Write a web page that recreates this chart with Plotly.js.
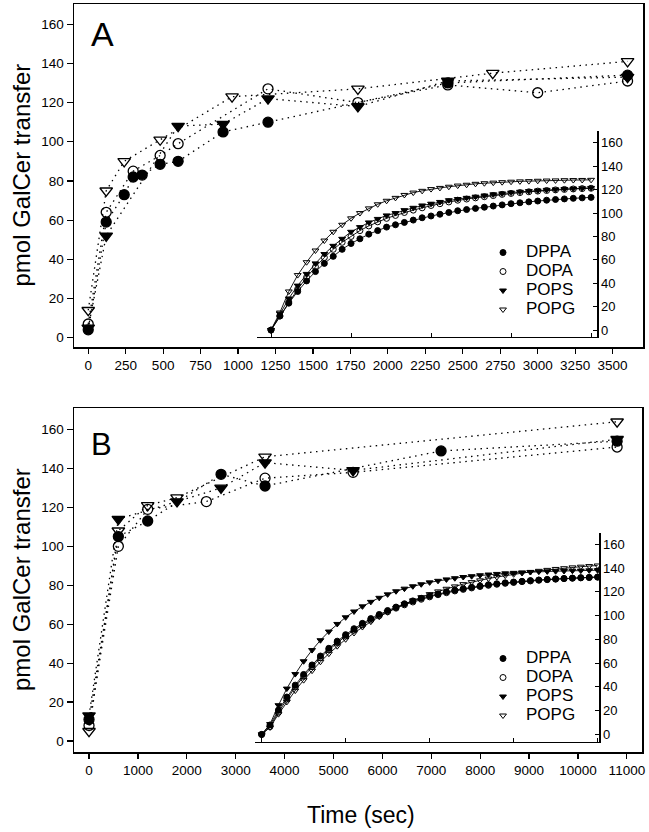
<!DOCTYPE html>
<html><head><meta charset="utf-8">
<script src="https://cdn.plot.ly/plotly-3.0.1.min.js"></script>
<style>html,body{margin:0;padding:0;background:#fff}#chart{width:649px;height:832px}</style>
</head><body><div id="chart"></div>
<script>
// ---------- data ----------
const seriesNames = ['DPPA', 'DOPA', 'POPS', 'POPG'];

// Panel A, main plot (time in sec, pmol GalCer transfer)
const timeA_DPPA = [0, 120, 240, 300, 360, 480, 600, 900, 1200, 2400, 3600];
const valA_DPPA  = [4, 59, 73, 82, 83, 88.5, 90, 105, 110, 130, 134];
const timeA_DOPA = [0, 120, 300, 480, 600, 1200, 1800, 2400, 3000, 3600];
const valA_DOPA  = [7, 64, 85, 93, 99, 127, 120, 129, 125, 131];
const timeA_POPS = [0, 120, 600, 900, 1200, 1800, 2400, 3600];
const valA_POPS  = [5, 52, 108, 109, 122, 118, 131, 133];
const timeA_POPG = [0, 120, 240, 480, 960, 1800, 2700, 3600];
const valA_POPG  = [14, 75, 90, 101, 123, 127, 135, 141];

// Panel A, inset traces (successive samples)
const insetA_DPPA = [0,12,23,33,42,50,57,63,69,74,78,82,85,88,90,92,94,96,97.5,99,100.5,102,103,104,105,106,107,108,108.8,109.6,110.3,111,111.6,112.1,112.6,113,113.4];
const insetA_DOPA = [0,12,24,35,45,54,62,69,75,80,85,89,92.5,95.5,98,100.5,102.5,104.5,106.5,108,109.5,111,112,113,114,115,116,116.8,117.5,118.2,118.8,119.3,119.8,120.2,120.6,120.9,121.2];
const insetA_POPS = [0,14,27,38,48,57,65,72,78,84,88,92,95,98,100,102.5,104.5,106.5,108,109.5,111,112,113,114,115,116,116.8,117.5,118.2,118.8,119.3,119.8,120.2,120.6,120.9,121.2,121.5];
const insetA_POPG = [0,15,33,47,58,68,76.5,84,90,95.5,100,104,107.5,110.5,113,115.5,117.5,119,120.5,121.5,122.5,123.5,124.2,125,125.5,126,126.4,126.8,127.1,127.3,127.6,127.8,127.9,128.1,128.2,128.3,128.4];

// Panel B, main plot
const timeB_DPPA = [0, 600, 1200, 2700, 3600, 7200, 10800];
const valB_DPPA  = [11, 105, 113, 137, 131, 149, 154];
const timeB_DOPA = [0, 600, 1200, 2400, 3600, 5400, 10800];
const valB_DOPA  = [8, 100, 119, 123, 135, 138, 151];
const timeB_POPS = [0, 600, 1800, 2700, 3600, 5400, 10800];
const valB_POPS  = [13, 114, 123, 130, 143, 139, 155];
const timeB_POPG = [0, 600, 1200, 1800, 3600, 10800];
const valB_POPG  = [5, 108, 121, 125, 146, 164];

// Panel B, inset traces
const insetB_DPPA = [0,8,20.5,31.5,41.5,50.5,58.5,66,72.5,78.5,84,89,93.5,97.5,101,104.3,107.2,110,112.4,114.6,116.5,118.3,120,121.4,122.7,123.9,125,126,126.8,127.6,128.3,128.9,129.5,130,130.5,130.9,131.3,131.6,131.9,132.2,132.5];
const insetB_DOPA = [0,6.6,18.8,29.9,39.9,48.9,57.1,64.5,71.2,77.3,82.8,87.8,92.3,96.3,100,103.3,106.3,109.1,111.5,113.8,115.8,117.6,119.3,120.8,122.1,123.3,124.5,125.5,126.4,127.2,127.9,128.6,129.2,129.8,130.3,130.7,131.1,131.5,131.8,132.1,132.4];
const insetB_POPS = [0,8.7,24.6,38.6,50.8,61.6,71,79.3,86.6,93,98.6,103.5,107.8,111.6,115,117.9,120.5,122.7,124.7,126.4,128,129.3,130.5,131.5,132.5,133.2,134,134.6,135.1,135.6,136,136.4,136.7,137,137.2,137.4,137.6,137.8,137.9,138.1,138.2];
const insetB_POPG = [0,5.9,17.1,27.4,36.9,45.7,53.7,61.2,68,74.3,80.1,85.4,90.4,94.9,99.1,102.9,106.5,109.7,112.8,115.5,118.1,120.4,122.6,124.6,126.5,128.2,129.7,131.2,132.5,133.7,134.8,135.9,136.8,137.7,138.5,139.3,139.9,140.6,141.2,141.7,142.2];

const yTicks = [0, 20, 40, 60, 80, 100, 120, 140, 160];
const xTicksA = [0,250,500,750,1000,1250,1500,1750,2000,2250,2500,2750,3000,3250,3500];
const xTicksB = [0,1000,2000,3000,4000,5000,6000,7000,8000,9000,10000,11000];

// ---------- styling ----------
const W = 649, H = 832;
const px = x => x / W, py = y => 1 - y / H;
const symbols = ['circle', 'circle-open', 'triangle-down', 'triangle-down-open'];
const FONT = 'Liberation Sans, Arial, sans-serif';
const mainA = [[timeA_DPPA, valA_DPPA], [timeA_DOPA, valA_DOPA], [timeA_POPS, valA_POPS], [timeA_POPG, valA_POPG]];
const mainB = [[timeB_DPPA, valB_DPPA], [timeB_DOPA, valB_DOPA], [timeB_POPS, valB_POPS], [timeB_POPG, valB_POPG]];
const insA = [insetA_DPPA, insetA_DOPA, insetA_POPS, insetA_POPG];
const insB = [insetB_DPPA, insetB_DOPA, insetB_POPS, insetB_POPG];

const traces = [];
function addMain(data, xa, ya) {
  data.forEach(([t, v], i) => {
    traces.push({x: t, y: v, xaxis: xa, yaxis: ya, mode: 'lines', showlegend: false,
      line: {color: '#000', width: 1.3, dash: '1.5px,4.5px'}, hoverinfo: 'skip'});
  });
  data.forEach(([t, v], i) => {
    traces.push({x: t, y: v, xaxis: xa, yaxis: ya, mode: 'markers', showlegend: false,
      marker: {symbol: symbols[i], size: i >= 2 ? 11 : 10, color: '#000', line: {color: '#000', width: 1.3}}});
  });
}
function addInset(data, xa, ya, leg) {
  data.forEach((v, i) => {
    const idx = v.map((_, k) => k);
    traces.push({x: idx, y: v, xaxis: xa, yaxis: ya, mode: 'lines', showlegend: false,
      line: {color: '#000', width: 0.9}, hoverinfo: 'skip'});
  });
  data.forEach((v, i) => {
    const idx = v.map((_, k) => k);
    traces.push({x: idx, y: v, xaxis: xa, yaxis: ya, mode: 'markers',
      name: '<span style="font-size:17px">' + seriesNames[i] + '</span>',
      legend: leg, showlegend: true,
      marker: {symbol: symbols[i], size: 6, color: '#000', line: {color: '#000', width: 1}}});
  });
}
addMain(mainA, 'x', 'y');
addInset(insA, 'x2', 'y2', 'legend');
addMain(mainB, 'x3', 'y3');
addInset(insB, 'x4', 'y4', 'legend2');

const mainX = (dom, anchor, rng, ticks) => ({domain: dom, anchor: anchor, range: rng, tickvals: ticks, tickformat: 'd',
  showline: true, mirror: true, linecolor: '#000', linewidth: 1.5, ticks: 'outside', ticklen: 5, tickwidth: 1.2,
  tickcolor: '#000', showgrid: false, zeroline: false, tickfont: {size: 13.5, color: '#000', family: FONT}});
const mainY = (dom, anchor, rng) => ({domain: dom, anchor: anchor, range: rng, tickvals: yTicks,
  showline: true, mirror: true, linecolor: '#000', linewidth: 1.5, ticks: 'outside', ticklen: 6, tickwidth: 1.2,
  tickcolor: '#000', showgrid: false, zeroline: false, tickfont: {size: 13.5, color: '#000', family: FONT}});
const insX = (dom, anchor, rng, ticks) => ({domain: dom, anchor: anchor, range: rng, tickvals: ticks,
  showticklabels: false, showline: true, linecolor: '#000', linewidth: 1.2, ticks: 'inside', ticklen: 4,
  tickcolor: '#000', showgrid: false, zeroline: false});
const insY = (dom, anchor, rng) => ({domain: dom, anchor: anchor, range: rng, tickvals: yTicks, side: 'right',
  showline: true, linecolor: '#000', linewidth: 1.2, ticks: 'inside', ticklen: 4, tickcolor: '#000',
  showgrid: false, zeroline: false, tickfont: {size: 13, color: '#000', family: FONT}});

const legendStyle = (x, y) => ({x: x, y: y, xanchor: 'left', yanchor: 'top', bgcolor: 'rgba(0,0,0,0)',
  font: {size: 11, color: '#000', family: FONT}, itemwidth: 36, tracegroupgap: 0, borderwidth: 0});

const ann = (text, x, y, size, angle) => ({text: text, x: px(x), y: py(y), xref: 'paper', yref: 'paper',
  xanchor: 'center', yanchor: 'middle', showarrow: false, textangle: angle || 0, font: {size: size, family: FONT, color: '#000'}});

const layout = {
  width: W, height: H, margin: {l: 0, r: 0, t: 0, b: 0},
  paper_bgcolor: '#fff', plot_bgcolor: 'rgba(0,0,0,0)',
  font: {family: FONT, color: '#000'},
  xaxis: mainX([px(74), px(643)], 'y', [-95, 3703], xTicksA),
  yaxis: mainY([py(347.3), py(4)], 'x', [-4.9, 170.3]),
  xaxis2: insX([px(256.6), px(597.3)], 'y2', [-1.62, 36.7], [0, 9, 18, 27, 36]),
  yaxis2: insY([py(336.5), py(130.7)], 'x2', [-5.5, 170.4]),
  xaxis3: mainX([px(74), px(642)], 'y3', [-307, 11309], xTicksB),
  yaxis3: mainY([py(752.3), py(408.3)], 'x3', [-5.8, 170.9]),
  xaxis4: insX([px(254.5), px(599.3)], 'y4', [-0.85, 40.2], [0, 10, 20, 30, 40]),
  yaxis4: insY([py(741.7), py(532.7)], 'x4', [-6.1, 169.8]),
  legend: legendStyle(px(480), py(238)),
  legend2: legendStyle(px(480), py(644)),
  annotations: [
    ann('A', 103, 34, 34),
    ann('B', 101, 444, 31),
    ann('pmol GalCer transfer', 21, 175.5, 24, -90),
    ann('pmol GalCer transfer', 21, 580, 24, -90),
    ann('Time (sec)', 361, 815, 23)
  ]
};
Plotly.newPlot('chart', traces, layout, {staticPlot: true});
</script></body></html>
